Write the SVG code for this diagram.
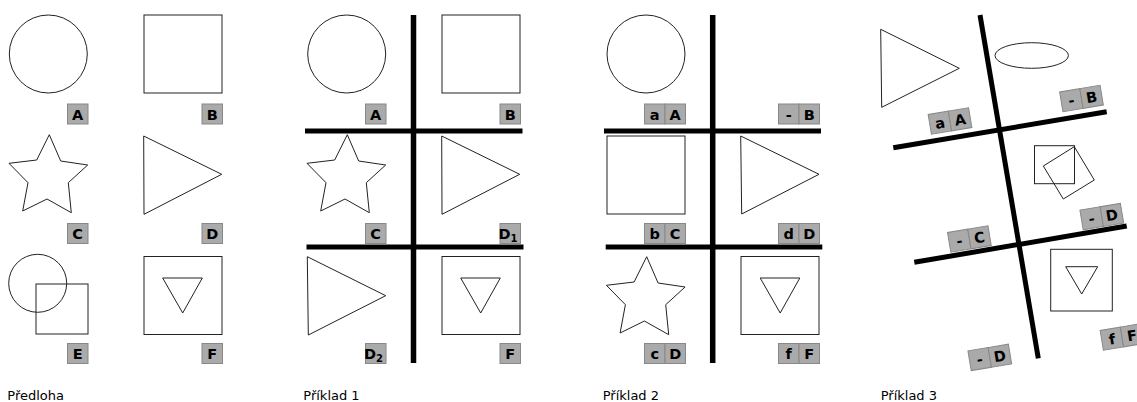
<svg xmlns="http://www.w3.org/2000/svg" xmlns:xlink="http://www.w3.org/1999/xlink" width="1137" height="402" viewBox="0 0 1137 402">
<style>
.s{fill:#fff;stroke:#222;stroke-width:1}
.bar{stroke:#000;stroke-width:5;stroke-linecap:butt;fill:none}
.lb{fill:#aaa;stroke:#888;stroke-width:1}
.lt{font-family:"DejaVu Sans",sans-serif;font-weight:bold;font-size:14.5px;text-anchor:middle;fill:#000}
.cap{font-family:"DejaVu Sans",sans-serif;font-size:13px;fill:#000}
</style>
<defs>
<path id="star" d="M49.3,134.7 L60.7,161 L87.7,165 L68.3,182.7 L71.3,212.7 L47,199 L22.7,211 L28,182.7 L9,163.3 L36.7,160 Z"/>
</defs>

<g id="panel-predloha">
  <g id="p0-A"><circle class="s" cx="48.3" cy="54" r="39"/><rect class="lb" x="67.5" y="104" width="20.5" height="20"/><text class="lt" x="77.7" y="119.5">A</text></g>
  <g id="p0-B"><rect class="s" x="144" y="15" width="78" height="78"/><rect class="lb" x="202" y="104" width="20.5" height="20"/><text class="lt" x="212.2" y="119.5">B</text></g>
  <g id="p0-C"><use href="#star" class="s"/><rect class="lb" x="67.5" y="223.5" width="20.5" height="20"/><text class="lt" x="77.7" y="239">C</text></g>
  <g id="p0-D"><polygon class="s" points="143.7,136 221.7,174.3 144,214.3"/><rect class="lb" x="202" y="223.5" width="20.5" height="20"/><text class="lt" x="212.2" y="239">D</text></g>
  <g id="p0-E"><circle class="s" cx="37.7" cy="283.3" r="29" style="fill:none"/><rect class="s" x="36" y="284" width="52" height="50" style="fill:none"/><rect class="lb" x="67.5" y="343.5" width="20.5" height="20"/><text class="lt" x="77.7" y="359">E</text></g>
  <g id="p0-F"><rect class="s" x="144" y="256.5" width="78" height="78"/><polygon class="s" points="162.7,278 202.3,278 182.7,313"/><rect class="lb" x="202" y="343.5" width="20.5" height="20"/><text class="lt" x="212.2" y="359">F</text></g>
  <text class="cap" x="7.3" y="400">Předloha</text>
</g>

<g id="panel-priklad1">
  <g id="connectors-1">
    <line class="bar" x1="413.5" y1="15" x2="413.5" y2="363" style="stroke-width:5.5"/>
    <line class="bar" x1="305" y1="131" x2="522.5" y2="131"/>
    <line class="bar" x1="306.5" y1="247" x2="523.5" y2="247"/>
  </g>
  <g id="p1-A"><circle class="s" cx="346.7" cy="54" r="39"/><rect class="lb" x="365.5" y="104" width="20.5" height="20"/><text class="lt" x="375.7" y="119.5">A</text></g>
  <g id="p1-B"><rect class="s" x="442" y="15" width="78" height="78"/><rect class="lb" x="500" y="104" width="20.5" height="20"/><text class="lt" x="510.2" y="119.5">B</text></g>
  <g id="p1-C"><use href="#star" class="s" transform="translate(298,0)"/><rect class="lb" x="365.5" y="223.5" width="20.5" height="20"/><text class="lt" x="375.7" y="239">C</text></g>
  <g id="p1-D1"><polygon class="s" points="441.7,136 519.7,174.3 442,214.3"/><rect class="lb" x="500" y="223.5" width="20.5" height="20"/><text class="lt" x="508" y="239">D<tspan font-size="10" dy="3">1</tspan></text></g>
  <g id="p1-D2"><polygon class="s" points="307.3,256.7 385.7,295.7 308.3,335"/><rect class="lb" x="365.5" y="343.5" width="20.5" height="20"/><text class="lt" x="373.5" y="359">D<tspan font-size="10" dy="3">2</tspan></text></g>
  <g id="p1-F"><rect class="s" x="442" y="256.5" width="78" height="78"/><polygon class="s" points="460.7,278 500.3,278 480.7,313"/><rect class="lb" x="500" y="343.5" width="20.5" height="20"/><text class="lt" x="510.2" y="359">F</text></g>
  <text class="cap" x="303.3" y="400">Příklad 1</text>
</g>

<g id="panel-priklad2">
  <g id="connectors-2">
    <line class="bar" x1="712.7" y1="15" x2="712.7" y2="363" style="stroke-width:5.5"/>
    <line class="bar" x1="604" y1="131" x2="821" y2="131"/>
    <line class="bar" x1="605.7" y1="247" x2="822.3" y2="247"/>
  </g>
  <g id="p2-aA"><circle class="s" cx="646" cy="54" r="39"/><rect class="lb" x="644.5" y="104" width="20.5" height="20"/><rect class="lb" x="665" y="104" width="20.5" height="20"/><text class="lt" x="654.7" y="119.5">a</text><text class="lt" x="675.2" y="119.5">A</text></g>
  <g id="p2-B"><rect class="lb" x="778.5" y="104" width="20.5" height="20"/><rect class="lb" x="799" y="104" width="20.5" height="20"/><text class="lt" x="788.7" y="119.5">-</text><text class="lt" x="809.2" y="119.5">B</text></g>
  <g id="p2-bC"><rect class="s" x="607" y="136" width="78" height="78"/><rect class="lb" x="644.5" y="223.5" width="20.5" height="20"/><rect class="lb" x="665" y="223.5" width="20.5" height="20"/><text class="lt" x="654.7" y="239">b</text><text class="lt" x="675.2" y="239">C</text></g>
  <g id="p2-dD"><polygon class="s" points="740.7,136 819,174.3 741.7,214"/><rect class="lb" x="778.5" y="223.5" width="20.5" height="20"/><rect class="lb" x="799" y="223.5" width="20.5" height="20"/><text class="lt" x="788.7" y="239">d</text><text class="lt" x="809.2" y="239">D</text></g>
  <g id="p2-cD"><use href="#star" class="s" transform="translate(597.4,122)"/><rect class="lb" x="644.5" y="343.5" width="20.5" height="20"/><rect class="lb" x="665" y="343.5" width="20.5" height="20"/><text class="lt" x="654.7" y="359">c</text><text class="lt" x="675.2" y="359">D</text></g>
  <g id="p2-fF"><rect class="s" x="741" y="256.5" width="78" height="78"/><polygon class="s" points="760.2,278 799.8,278 780.2,313"/><rect class="lb" x="778.5" y="343.5" width="20.5" height="20"/><rect class="lb" x="799" y="343.5" width="20.5" height="20"/><text class="lt" x="788.7" y="359">f</text><text class="lt" x="809.2" y="359">F</text></g>
  <text class="cap" x="602.7" y="400">Příklad 2</text>
</g>

<g id="panel-priklad3">
  <g id="connectors-3">
    <line class="bar" x1="980" y1="15" x2="1038.3" y2="358.3"/>
    <line class="bar" x1="893.3" y1="147.7" x2="1106.7" y2="111.7"/>
    <line class="bar" x1="914.3" y1="262.3" x2="1126.7" y2="226"/>
  </g>
  <g id="p3-triangle"><polygon class="s" points="880.7,29.3 959.3,68.3 881.7,107.3"/></g>
  <g id="p3-ellipse"><ellipse class="s" cx="1031.7" cy="55.5" rx="36.7" ry="12.8"/></g>
  <g id="p3-squares"><rect class="s" x="1034.5" y="145.7" width="40" height="38" style="fill:none"/><polygon class="s" points="1074.3,146.7 1094.3,180 1063.3,199 1043.3,166" style="fill:none"/></g>
  <g id="p3-F"><rect class="s" x="1050.7" y="249.3" width="61.6" height="61.7"/><polygon class="s" points="1065.7,266.7 1097.7,266.7 1081.7,294"/></g>
  <g id="p3-aA" transform="translate(950,121) rotate(-9.5)"><rect class="lb" x="-20.5" y="-10" width="20.5" height="20"/><rect class="lb" x="0" y="-10" width="20.5" height="20"/><text class="lt" x="-10.3" y="5.5">a</text><text class="lt" x="10.2" y="5.5">A</text></g>
  <g id="p3-B" transform="translate(1081.5,98.5) rotate(-9.5)"><rect class="lb" x="-20.5" y="-10" width="20.5" height="20"/><rect class="lb" x="0" y="-10" width="20.5" height="20"/><text class="lt" x="-10.3" y="5.5">-</text><text class="lt" x="10.2" y="5.5">B</text></g>
  <g id="p3-C" transform="translate(969.4,239) rotate(-9.5)"><rect class="lb" x="-20.5" y="-10" width="20.5" height="20"/><rect class="lb" x="0" y="-10" width="20.5" height="20"/><text class="lt" x="-10.3" y="5.5">-</text><text class="lt" x="10.2" y="5.5">C</text></g>
  <g id="p3-D" transform="translate(1101.8,216.6) rotate(-9.5)"><rect class="lb" x="-20.5" y="-10" width="20.5" height="20"/><rect class="lb" x="0" y="-10" width="20.5" height="20"/><text class="lt" x="-10.3" y="5.5">-</text><text class="lt" x="10.2" y="5.5">D</text></g>
  <g id="p3-D2" transform="translate(989.8,357.4) rotate(-9.5)"><rect class="lb" x="-20.5" y="-10" width="20.5" height="20"/><rect class="lb" x="0" y="-10" width="20.5" height="20"/><text class="lt" x="-10.3" y="5.5">-</text><text class="lt" x="10.2" y="5.5">D</text></g>
  <g id="p3-fF" transform="translate(1122,337) rotate(-9.5)"><rect class="lb" x="-20.5" y="-10" width="20.5" height="20"/><rect class="lb" x="0" y="-10" width="20.5" height="20"/><text class="lt" x="-10.3" y="5.5">f</text><text class="lt" x="10.2" y="5.5">F</text></g>
  <text class="cap" x="880.7" y="400">Příklad 3</text>
</g>
</svg>
